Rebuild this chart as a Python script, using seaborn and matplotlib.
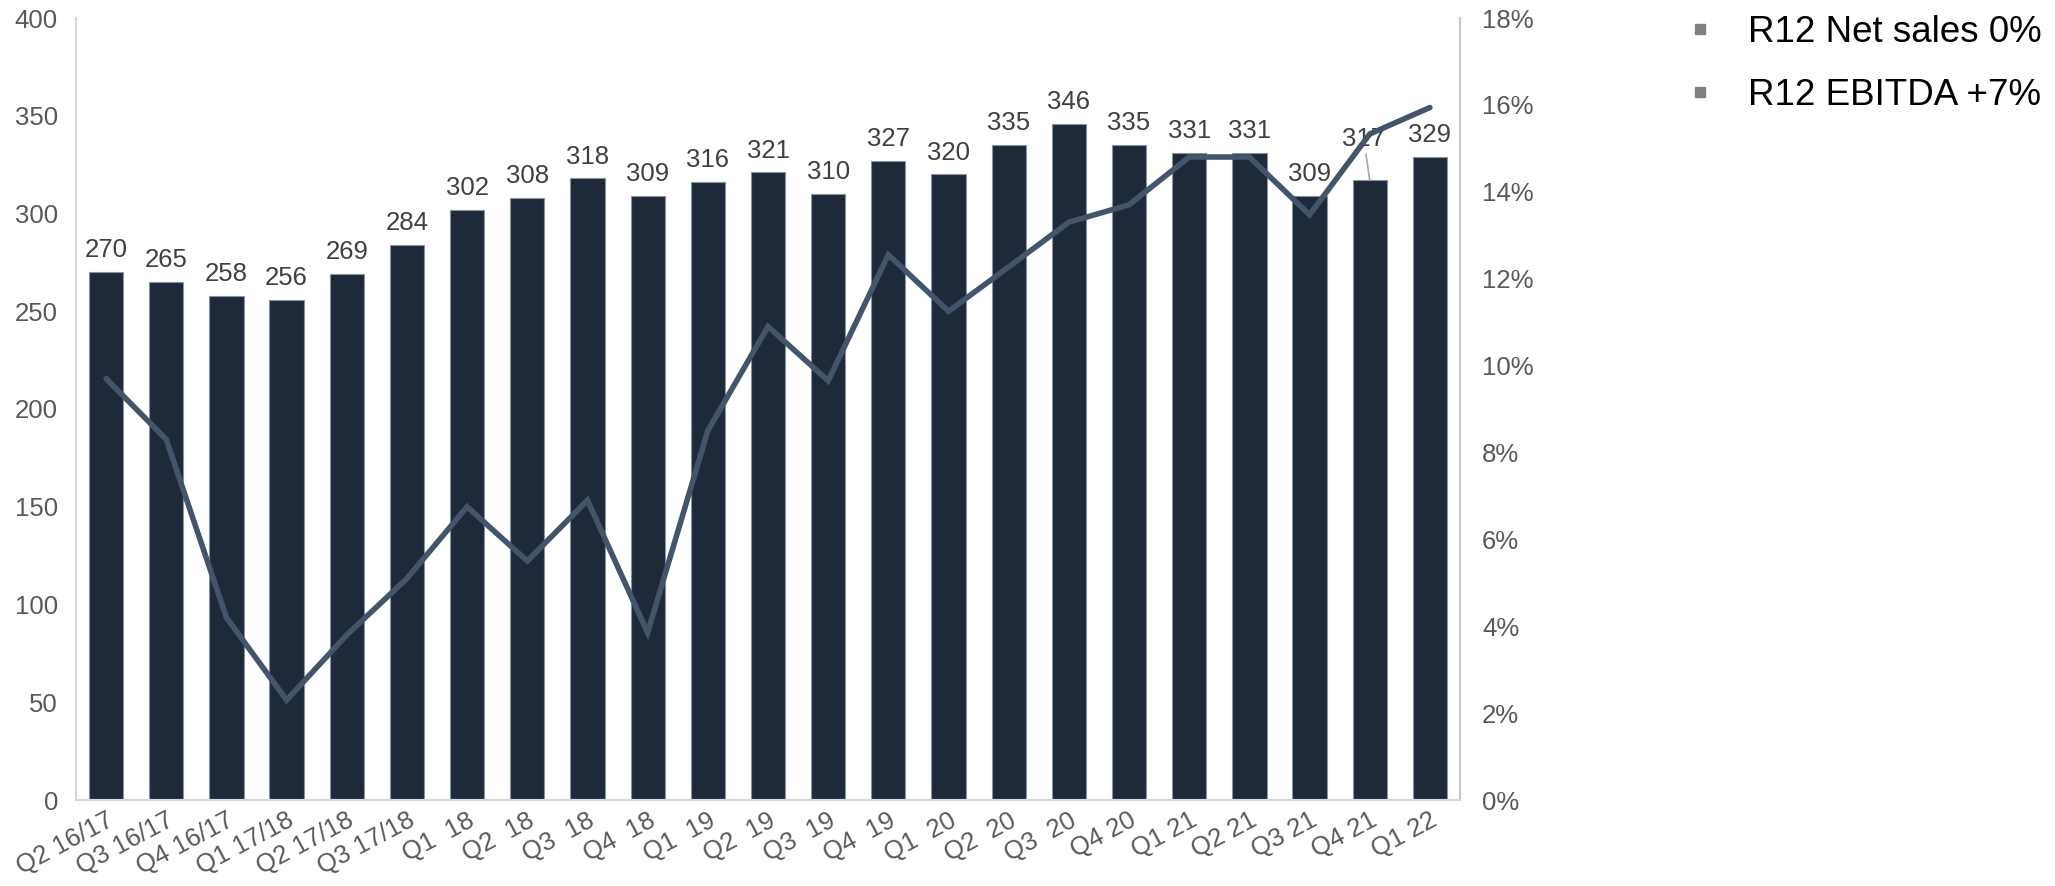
import numpy as np
import pandas as pd
import matplotlib
matplotlib.use("Agg")
import matplotlib.pyplot as plt
from matplotlib.lines import Line2D
from matplotlib.ticker import FuncFormatter, MultipleLocator
import seaborn as sns

quarters = ["Q2 16/17", "Q3 16/17", "Q4 16/17", "Q1 17/18", "Q2 17/18", "Q3 17/18",
            "Q1  18", "Q2  18", "Q3  18", "Q4  18", "Q1  19", "Q2  19", "Q3  19",
            "Q4  19", "Q1  20", "Q2  20", "Q3  20", "Q4 20", "Q1 21", "Q2 21",
            "Q3 21", "Q4 21", "Q1 22"]
net_sales = [270, 265, 258, 256, 269, 284, 302, 308, 318, 309, 316, 321, 310,
             327, 320, 335, 346, 335, 331, 331, 309, 317, 329]
ebitda_margin = [9.7, 8.3, 4.2, 2.3, 3.8, 5.1, 6.75, 5.5, 6.9, 3.85, 8.5, 10.9, 9.65,
                 12.55, 11.25, 12.27, 13.3, 13.7, 14.8, 14.8, 13.47, 15.33, 15.94]
legend_labels = ["R12 Net sales 0%", "R12 EBITDA +7%"]

df = pd.DataFrame({"quarter": quarters, "sales": net_sales, "ebitda": ebitda_margin})

sns.set_theme(style="white")
plt.rcParams["font.family"] = ["Liberation Sans", "DejaVu Sans"]

W, H = 2055, 886
fig = plt.figure(figsize=(W / 100, H / 100), dpi=100)
ax = fig.add_axes([76 / W, 1 - 800 / H, (1460 - 76) / W, (800 - 18) / H])

bar_color = "#1e2a3a"
line_color = "#44546a"
tick_color = "#595959"
fs = 18.5

sns.barplot(data=df, x="quarter", y="sales", color=bar_color, saturation=1,
            width=0.57, edgecolor="#8a94a0", linewidth=0.8, ax=ax)
ax.set_ylim(0, 400)
ax.set_xlim(-0.5, len(quarters) - 0.5)
ax.yaxis.set_major_locator(MultipleLocator(50))
ax.set_xlabel("")
ax.set_ylabel("")

labels = [str(v) for v in net_sales]
labels[21] = ""
ax.bar_label(ax.containers[0], labels=labels, padding=7, fontsize=fs, color="#404040")
ax.annotate(str(net_sales[21]), xy=(21, net_sales[21]), xytext=(21 - 0.1, net_sales[21] + 15),
            ha="center", va="bottom", fontsize=fs, color="#404040",
            arrowprops=dict(arrowstyle="-", color="#a6a6a6", lw=1.2, shrinkA=0, shrinkB=0))

ax2 = ax.twinx()
sns.lineplot(x=np.arange(len(quarters)), y=df["ebitda"], color=line_color, linewidth=4,
             ax=ax2, solid_capstyle="round", solid_joinstyle="miter")
ax2.set_ylim(0, 18)
ax2.yaxis.set_major_locator(MultipleLocator(2))
ax2.yaxis.set_major_formatter(FuncFormatter(lambda v, p: f"{v:.0f}%"))
ax2.set_ylabel("")

for a in (ax, ax2):
    a.spines["top"].set_visible(False)
    a.spines["left"].set_color("#d9d9d9")
    a.spines["right"].set_color("#c8c8c8")
    a.spines["bottom"].set_color("#d9d9d9")
    for s in ("left", "right", "bottom"):
        a.spines[s].set_linewidth(1.5)
    a.grid(False)

ax.tick_params(axis="y", length=0, pad=13, labelsize=fs, labelcolor=tick_color)
ax2.tick_params(axis="y", length=0, pad=16, labelsize=fs, labelcolor=tick_color)
ax.tick_params(axis="x", length=0, pad=6, labelsize=fs, labelcolor=tick_color)
for t in ax.get_xticklabels():
    t.set_rotation(28)
    t.set_ha("right")
    t.set_rotation_mode("anchor")

handles = [Line2D([], [], marker="s", ls="", color="#808080", markersize=7.2) for _ in legend_labels]
fig.legend(handles, legend_labels, loc="upper left", bbox_to_anchor=(1681.5 / W, 1 - 15 / H),
           frameon=False, fontsize=26.5, handletextpad=0.8, labelspacing=0.75,
           handlelength=1.0, borderaxespad=0, borderpad=0, labelcolor="black")

fig.savefig("out.png", dpi=100)
